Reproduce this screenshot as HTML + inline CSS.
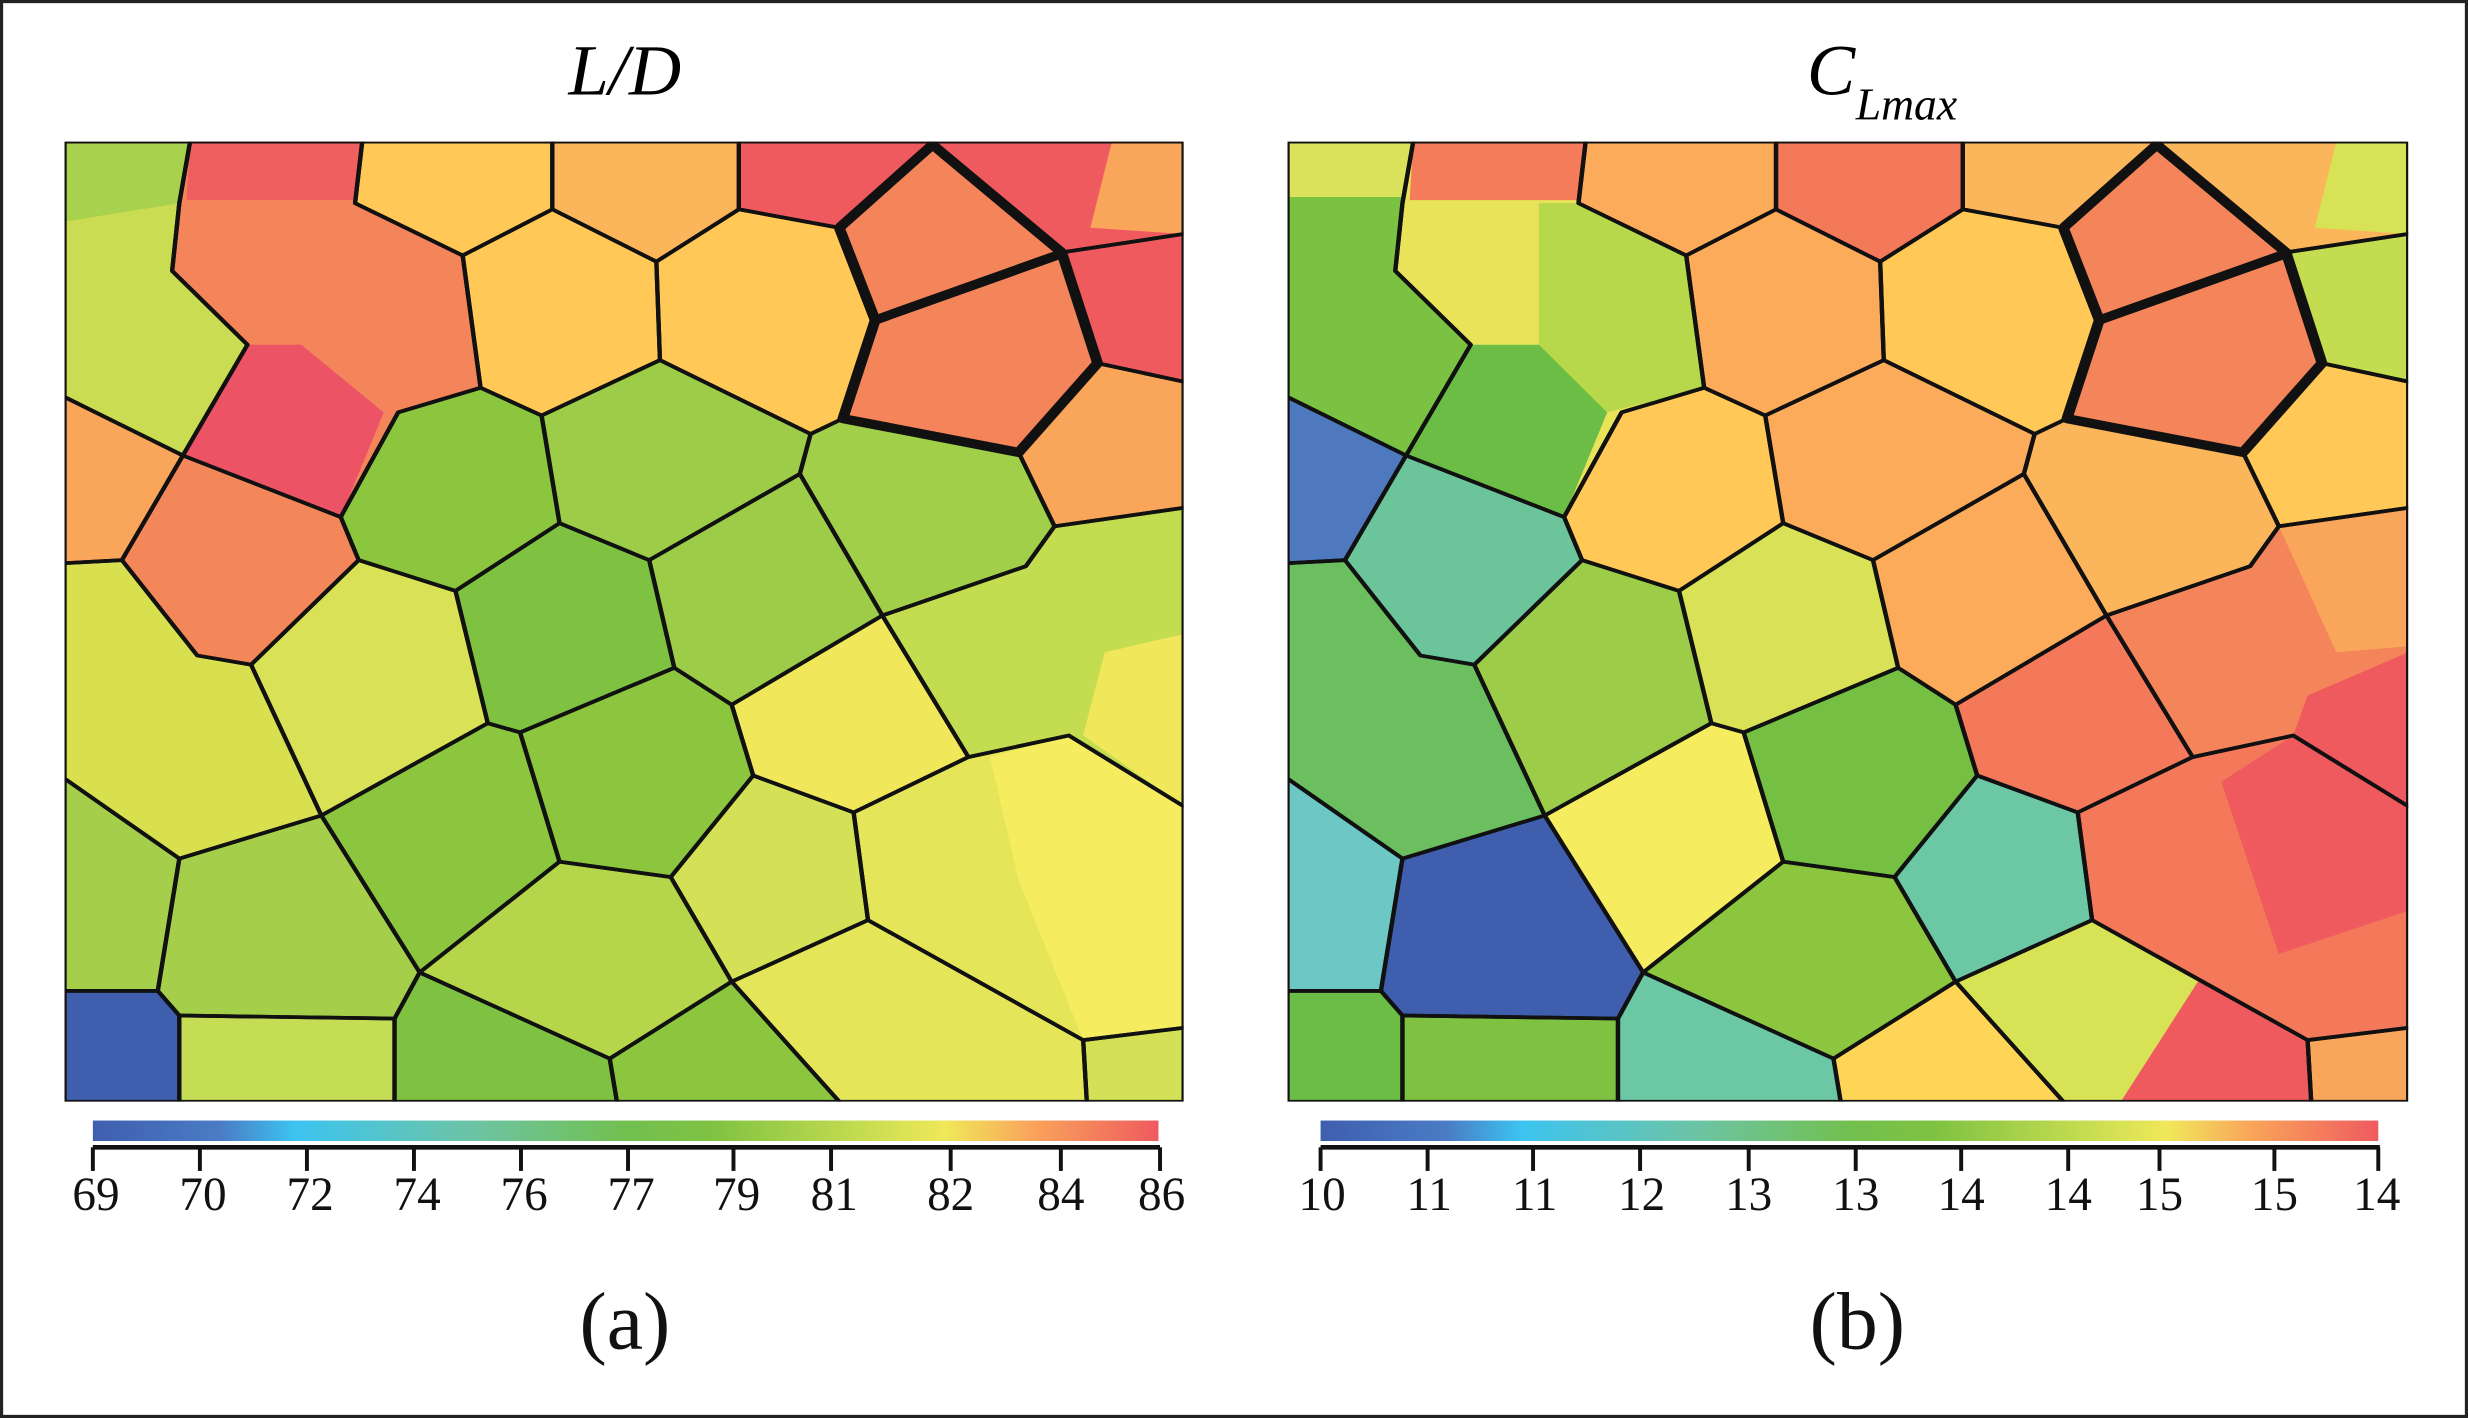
<!DOCTYPE html>
<html><head><meta charset="utf-8"><style>html,body{margin:0;padding:0;background:#fff}svg{display:block}</style></head>
<body>
<svg width="2468" height="1418" viewBox="0 0 1568 901" preserveAspectRatio="none" xmlns="http://www.w3.org/2000/svg" xmlns:xlink="http://www.w3.org/1999/xlink">
<defs>
<linearGradient id="cb" x1="0" x2="1" y1="0" y2="0">
<stop offset="0" stop-color="#3f5fae"/><stop offset="0.12" stop-color="#4a7cc4"/><stop offset="0.19" stop-color="#3cc4f0"/><stop offset="0.35" stop-color="#6cc4a8"/><stop offset="0.5" stop-color="#72c050"/><stop offset="0.58" stop-color="#7fc242"/><stop offset="0.72" stop-color="#c4dc50"/><stop offset="0.8" stop-color="#f0e85a"/><stop offset="0.88" stop-color="#f9a55a"/><stop offset="1" stop-color="#ef5a5f"/>
</linearGradient>
<polygon id="c1" points="0,0 175,0 160,100 150,210 255,330 165,510 0,415"/>
<polygon id="c2" points="175,0 415,0 405,100 555,185 580,400 465,440 385,610 165,510 255,330 150,210 160,100"/>
<polygon id="c3" points="415,0 680,0 680,110 555,185 405,100"/>
<polygon id="c4" points="680,0 940,0 940,110 825,195 680,110"/>
<polygon id="c5" points="555,185 680,110 825,195 830,355 665,445 580,400"/>
<polygon id="c6" points="825,195 940,110 1080,140 1130,290 1085,450 1040,475 830,355"/>
<polygon id="c7" points="940,0 1210,0 1080,140 940,110"/>
<polygon id="c9" points="1210,0 1560,0 1560,150 1390,180"/>
<polygon id="c10" points="1390,180 1560,150 1560,390 1440,360"/>
<polygon id="c11" points="1440,360 1560,390 1560,595 1380,625 1330,505"/>
<polygon id="g1" points="385,610 465,440 580,400 665,445 690,620 545,730 410,680"/>
<polygon id="g2" points="665,445 830,355 1040,475 1025,540 815,680 690,620"/>
<polygon id="g3" points="1040,475 1085,450 1330,505 1380,625 1340,690 1140,770 1025,540"/>
<polygon id="g4" points="545,730 690,620 815,680 850,855 635,960 590,945"/>
<polygon id="g5" points="815,680 1025,540 1140,770 930,915 850,855"/>
<polygon id="r1" points="1140,770 1340,690 1380,625 1560,595 1560,1080 1400,965 1260,1000"/>
<polygon id="y1" points="1140,770 1260,1000 1100,1090 960,1030 930,915"/>
<polygon id="l1" points="0,415 165,510 80,680 0,685"/>
<polygon id="l2" points="80,680 165,510 385,610 410,680 260,850 185,835"/>
<polygon id="l3" points="0,685 80,680 185,835 260,850 358,1095 160,1165 0,1035"/>
<polygon id="l4" points="260,850 410,680 545,730 590,945 358,1095"/>
<polygon id="m1" points="358,1095 590,945 635,960 690,1170 495,1350"/>
<polygon id="m2" points="635,960 850,855 930,915 960,1030 845,1195 690,1170"/>
<polygon id="b1" points="0,1035 160,1165 130,1380 0,1380"/>
<polygon id="b2" points="160,1165 358,1095 495,1350 460,1425 160,1420 130,1380"/>
<polygon id="b3" points="0,1380 130,1380 160,1420 160,1560 0,1560"/>
<polygon id="b4" points="160,1420 460,1425 460,1560 160,1560"/>
<polygon id="b5" points="495,1350 460,1425 460,1560 770,1560 760,1490"/>
<polygon id="b6" points="495,1350 690,1170 845,1195 930,1365 760,1490"/>
<polygon id="b7" points="760,1490 930,1365 1080,1560 770,1560"/>
<polygon id="b8" points="845,1195 960,1030 1100,1090 1120,1265 930,1365"/>
<polygon id="b9" points="1100,1090 1260,1000 1400,965 1560,1080 1560,1440 1420,1460 1120,1265"/>
<polygon id="b10" points="930,1365 1120,1265 1420,1460 1425,1560 1080,1560"/>
<polygon id="b11" points="1420,1460 1560,1440 1560,1560 1425,1560"/>
<polygon id="c8" points="1080,140 1210,5 1390,180 1440,360 1330,505 1085,450 1130,290"/>
<g id="strokes" fill="none" stroke="#111" stroke-width="6" stroke-linejoin="round">
<use xlink:href="#c1"/><use xlink:href="#c2"/><use xlink:href="#c3"/><use xlink:href="#c4"/><use xlink:href="#c5"/><use xlink:href="#c6"/><use xlink:href="#c7"/><use xlink:href="#c9"/><use xlink:href="#c10"/><use xlink:href="#c11"/>
<use xlink:href="#g1"/><use xlink:href="#g2"/><use xlink:href="#g3"/><use xlink:href="#g4"/><use xlink:href="#g5"/><use xlink:href="#r1"/><use xlink:href="#y1"/>
<use xlink:href="#l1"/><use xlink:href="#l2"/><use xlink:href="#l3"/><use xlink:href="#l4"/><use xlink:href="#m1"/><use xlink:href="#m2"/>
<use xlink:href="#b1"/><use xlink:href="#b2"/><use xlink:href="#b3"/><use xlink:href="#b4"/><use xlink:href="#b5"/><use xlink:href="#b6"/><use xlink:href="#b7"/><use xlink:href="#b8"/><use xlink:href="#b9"/><use xlink:href="#b10"/><use xlink:href="#b11"/>
<polyline points="1080,140 1210,5 1390,180 1440,360 1330,505 1085,450 1130,290 1080,140" stroke-width="15"/>
<polyline points="1130,290 1390,182" stroke-width="15"/>
</g>
</defs>

<rect x="1" y="1" width="1566" height="899" fill="#fff" stroke="#222" stroke-width="2"/>

<!-- Panel a -->
<svg x="41" y="90" width="711" height="610" viewBox="0 0 1560 1560" preserveAspectRatio="none">
<use xlink:href="#c1" fill="#c9dc52"/><polygon points="0,0 175,0 160,100 0,130" fill="#a8d14e"/>
<use xlink:href="#c2" fill="#f4845a"/><polygon points="175,0 415,0 405,95 170,95" fill="#ef5f5f"/><polygon points="255,330 330,330 445,440 385,610 165,510" fill="#ec5466"/>
<use xlink:href="#c3" fill="#ffc857"/><use xlink:href="#c4" fill="#fbb55a"/><use xlink:href="#c5" fill="#ffc857"/><use xlink:href="#c6" fill="#ffc857"/>
<use xlink:href="#c7" fill="#ef5a5f"/><use xlink:href="#c8" fill="#f4845a"/>
<use xlink:href="#c9" fill="#ef5a5f"/><polygon points="1460,0 1560,0 1560,150 1430,140" fill="#f9a55a"/>
<use xlink:href="#c10" fill="#ef5a5f"/><use xlink:href="#c11" fill="#f9a55a"/>
<use xlink:href="#g1" fill="#8cc63f"/><use xlink:href="#g2" fill="#9ccc48"/><use xlink:href="#g3" fill="#a2cf4a"/><use xlink:href="#g4" fill="#7fc242"/><use xlink:href="#g5" fill="#9ccc48"/>
<use xlink:href="#r1" fill="#c4dc50"/><polygon points="1450,830 1560,800 1560,1080 1420,965" fill="#f0e85a"/>
<use xlink:href="#y1" fill="#f0e85a"/>
<use xlink:href="#l1" fill="#f9a55a"/><use xlink:href="#l2" fill="#f4875a"/><use xlink:href="#l3" fill="#d8e050"/><use xlink:href="#l4" fill="#d9e256"/>
<use xlink:href="#m1" fill="#8cc63f"/><use xlink:href="#m2" fill="#8cc63f"/>
<use xlink:href="#b1" fill="#a5cf4a"/><use xlink:href="#b2" fill="#a5cf4a"/><use xlink:href="#b3" fill="#3f5fae"/><use xlink:href="#b4" fill="#c5dc55"/><use xlink:href="#b5" fill="#7fc242"/><use xlink:href="#b6" fill="#b5d64a"/><use xlink:href="#b7" fill="#8cc63f"/><use xlink:href="#b8" fill="#d4e055"/>
<use xlink:href="#b9" fill="#e5e55a"/><polygon points="1290,1000 1400,965 1560,1080 1560,1440 1420,1460 1330,1200" fill="#f5ec60"/>
<use xlink:href="#b10" fill="#e5e55a"/><use xlink:href="#b11" fill="#d4e055"/>
<use xlink:href="#strokes"/>
</svg>

<!-- Panel b -->
<svg x="818" y="90" width="712" height="610" viewBox="0 0 1560 1560" preserveAspectRatio="none">
<use xlink:href="#c1" fill="#7cc242"/><polygon points="0,0 175,0 160,90 0,90" fill="#d9e25a"/>
<use xlink:href="#c2" fill="#e9e35a"/><polygon points="175,0 415,0 405,95 170,95" fill="#f47c5a"/><polygon points="350,100 405,100 555,185 580,400 445,440 350,330" fill="#b7d84a"/><polygon points="255,330 350,330 445,440 385,610 165,510" fill="#6cbd45"/>
<use xlink:href="#c3" fill="#fbab5a"/><use xlink:href="#c4" fill="#f4785a"/><use xlink:href="#c5" fill="#fbab5a"/><use xlink:href="#c6" fill="#ffc857"/>
<use xlink:href="#c7" fill="#fbb55a"/><use xlink:href="#c8" fill="#f4845a"/>
<use xlink:href="#c9" fill="#fbb55a"/><polygon points="1460,0 1560,0 1560,150 1430,140" fill="#d8e255"/>
<use xlink:href="#c10" fill="#c4dc50"/><use xlink:href="#c11" fill="#ffc857"/>
<use xlink:href="#g1" fill="#ffc857"/><use xlink:href="#g2" fill="#fbab5a"/><use xlink:href="#g3" fill="#fbb55a"/><use xlink:href="#g4" fill="#d9e256"/><use xlink:href="#g5" fill="#fbab5a"/>
<use xlink:href="#r1" fill="#f4845a"/><polygon points="1380,625 1560,595 1560,820 1460,830" fill="#f9a55a"/><polygon points="1420,900 1560,830 1560,1080 1400,965" fill="#ef5a5f"/>
<use xlink:href="#y1" fill="#f4785a"/>
<use xlink:href="#l1" fill="#4f79bf"/><use xlink:href="#l2" fill="#6cc49a"/><use xlink:href="#l3" fill="#6cbf5f"/><use xlink:href="#l4" fill="#9ccc48"/>
<use xlink:href="#m1" fill="#f5ec5f"/><use xlink:href="#m2" fill="#75bf43"/>
<use xlink:href="#b1" fill="#6cc7c5"/><use xlink:href="#b2" fill="#3f5fae"/><use xlink:href="#b3" fill="#6cbd45"/><use xlink:href="#b4" fill="#7fc242"/><use xlink:href="#b5" fill="#6cc7a5"/><use xlink:href="#b6" fill="#8cc63f"/><use xlink:href="#b7" fill="#ffd557"/><use xlink:href="#b8" fill="#6cc7a5"/>
<use xlink:href="#b9" fill="#f4785a"/><polygon points="1300,1040 1400,965 1560,1080 1560,1250 1380,1320" fill="#ef5a5f"/>
<use xlink:href="#b10" fill="#d8e255"/><polygon points="1270,1360 1420,1460 1425,1560 1160,1560" fill="#ef5a5f"/>
<use xlink:href="#b11" fill="#f9a55a"/>
<use xlink:href="#strokes"/>
</svg>

<!-- Titles -->
<text x="397" y="60" font-family="Liberation Serif, serif" font-style="italic" font-size="46" text-anchor="middle">L/D</text>
<text x="1148" y="60" font-family="Liberation Serif, serif" font-style="italic" font-size="46">C</text>
<text x="1179" y="76" font-family="Liberation Serif, serif" font-style="italic" font-size="29">Lmax</text>

<!-- Colorbar a -->
<rect x="59" y="712" width="677" height="13" fill="url(#cb)"/>
<line x1="59" y1="729" x2="737" y2="729" stroke="#111" stroke-width="3"/>
<g stroke="#111" stroke-width="2.5">
<line x1="59" y1="729" x2="59" y2="744"/><line x1="127" y1="729" x2="127" y2="744"/><line x1="195" y1="729" x2="195" y2="744"/><line x1="263" y1="729" x2="263" y2="744"/><line x1="331" y1="729" x2="331" y2="744"/><line x1="399" y1="729" x2="399" y2="744"/><line x1="466" y1="729" x2="466" y2="744"/><line x1="528" y1="729" x2="528" y2="744"/><line x1="604" y1="729" x2="604" y2="744"/><line x1="674" y1="729" x2="674" y2="744"/><line x1="737" y1="729" x2="737" y2="744"/>
</g>
<g font-family="Liberation Serif, serif" font-size="30" text-anchor="middle" fill="#111">
<text x="61" y="769">69</text><text x="129" y="769">70</text><text x="197" y="769">72</text><text x="265" y="769">74</text><text x="333" y="769">76</text><text x="401" y="769">77</text><text x="468" y="769">79</text><text x="530" y="769">81</text><text x="604" y="769">82</text><text x="674" y="769">84</text><text x="738" y="769">86</text>
</g>

<!-- Colorbar b -->
<rect x="839" y="712" width="672" height="13" fill="url(#cb)"/>
<line x1="839" y1="729" x2="1512" y2="729" stroke="#111" stroke-width="3"/>
<g stroke="#111" stroke-width="2.5">
<line x1="839" y1="729" x2="839" y2="744"/><line x1="907" y1="729" x2="907" y2="744"/><line x1="974" y1="729" x2="974" y2="744"/><line x1="1042" y1="729" x2="1042" y2="744"/><line x1="1111" y1="729" x2="1111" y2="744"/><line x1="1179" y1="729" x2="1179" y2="744"/><line x1="1246" y1="729" x2="1246" y2="744"/><line x1="1314" y1="729" x2="1314" y2="744"/><line x1="1372" y1="729" x2="1372" y2="744"/><line x1="1445" y1="729" x2="1445" y2="744"/><line x1="1511" y1="729" x2="1511" y2="744"/>
</g>
<g font-family="Liberation Serif, serif" font-size="30" text-anchor="middle" fill="#111">
<text x="840" y="769">10</text><text x="908" y="769">11</text><text x="975" y="769">11</text><text x="1043" y="769">12</text><text x="1111" y="769">13</text><text x="1179" y="769">13</text><text x="1246" y="769">14</text><text x="1314" y="769">14</text><text x="1372" y="769">15</text><text x="1445" y="769">15</text><text x="1510" y="769">14</text>
</g>

<!-- Captions -->
<text x="397" y="857" font-family="Liberation Serif, serif" font-size="52" text-anchor="middle" fill="#111">(a)</text>
<text x="1180" y="857" font-family="Liberation Serif, serif" font-size="52" text-anchor="middle" fill="#111">(b)</text>
</svg>
</body></html>
